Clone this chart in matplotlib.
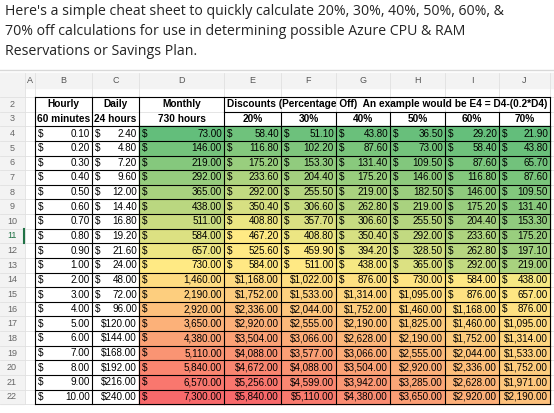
import numpy as np
import matplotlib.pyplot as plt
from matplotlib.colors import LinearSegmentedColormap

# data
hourly = [0.10, 0.20, 0.30, 0.40, 0.50, 0.60, 0.70, 0.80, 0.90, 1, 2, 3, 4, 5, 6, 7, 8, 9, 10]
daily = [2.40, 4.80, 7.20, 9.60, 12.00, 14.40, 16.80, 19.20, 21.60, 24, 48, 72, 96, 120, 144, 168, 192, 216, 240]
monthly = [73, 146, 219, 292, 365, 438, 511, 584, 657, 730, 1460, 2190, 2920, 3650, 4380, 5110, 5840, 6570, 7300]
discounts = [0.2, 0.3, 0.4, 0.5, 0.6, 0.7]
disc_labels = ["20%", "30%", "40%", "50%", "60%", "70%"]
col_letters = ["A", "B", "C", "D", "E", "F", "G", "H", "I", "J"]

title = ("Here's a simple cheat sheet to quickly calculate 20%, 30%, 40%, 50%, 60%, &\n"
         "70% off calculations for use in determining possible Azure CPU & RAM\n"
         "Reservations or Savings Plan.")

monthly = np.array(monthly, dtype=float)
disc_vals = np.array([monthly * (1 - d) for d in discounts])  # 6 x 19

fig = plt.figure(figsize=(5.54, 4.13), dpi=100)
ax = fig.add_axes([0, 0, 1, 1])
ax.set_xlim(0, 554)
ax.set_ylim(413, 0)
ax.axis("off")

ax.text(5, 4, title, ha="left", va="top", fontsize=10.2, family="Open Sans",
        color="#242424", linespacing=1.45)

# column boundaries
xb = [25, 35, 92, 139, 224, 281, 336, 390, 445, 499, 550]
hdr_top, hdr_bot = 73, 88
row1_bot = 97
rh = 14.63
def row_top(k):
    return row1_bot + (k - 2) * rh
nrows = 22
grid_bot = row_top(23)

# sheet background / header
ax.add_patch(plt.Rectangle((0, 70), 554, 343, color="white", zorder=0))
ax.add_patch(plt.Rectangle((0, hdr_top), 554, hdr_bot - hdr_top, color="#f3f3f3", zorder=1))
ax.add_patch(plt.Rectangle((0, hdr_top), 24, grid_bot - hdr_top, color="#f3f3f3", zorder=1))
ax.plot([0, 554], [70, 70], color="#d8d8d8", lw=1)
for i, c in enumerate(col_letters):
    ax.text((xb[i] + xb[i + 1]) / 2, (hdr_top + hdr_bot) / 2, c, ha="center", va="center",
            fontsize=6.5, color="#555555", family="Liberation Sans", zorder=3)
for k in range(1, nrows + 1):
    yt = hdr_bot if k == 1 else row_top(k)
    yb = row1_bot if k == 1 else row_top(k + 1)
    if k > 1:
        ax.text(12, (yt + yb) / 2, str(k), ha="center", va="center", fontsize=6.5,
                color="#217346" if k == 11 else "#666666", family="Liberation Sans", zorder=3)
    ax.plot([0, 554], [yb, yb], color="#e1e1e1", lw=0.6, zorder=1)
ax.plot([23.5, 23.5], [row_top(11), row_top(12)], color="#217346", lw=1.5, zorder=4)
for x in xb:
    ax.plot([x, x], [hdr_top, grid_bot], color="#e1e1e1", lw=0.6, zorder=1)

# colour scales (Excel 3-colour: min, 50th percentile, max)
cmap = LinearSegmentedColormap.from_list("xl", ["#63be7b", "#ffeb84", "#f8696b"])
def scale(v, arr):
    lo, mid, hi = arr.min(), np.percentile(arr, 50), arr.max()
    if v <= mid:
        t = 0.5 * (v - lo) / (mid - lo)
    else:
        t = 0.5 + 0.5 * (v - mid) / (hi - mid)
    return cmap(t)

fs = 7.1
fam = "Liberation Sans"

def money(x0, x1, yc, v, overflow_at):
    s = f"{v:,.2f}"
    if v >= overflow_at:
        ax.text(x1 - 2, yc, "$" + s, ha="right", va="center", fontsize=fs, family=fam, zorder=5)
    else:
        ax.text(x0 + 3, yc, "$", ha="left", va="center", fontsize=fs, family=fam, zorder=5)
        ax.text(x1 - 2, yc, s, ha="right", va="center", fontsize=fs, family=fam, zorder=5)

for i in range(len(hourly)):
    k = i + 4
    yt, yb = row_top(k), row_top(k + 1)
    yc = (yt + yb) / 2
    cells = [(3, monthly[i], monthly, 1e9)]
    for j in range(6):
        cells.append((4 + j, disc_vals[j, i], disc_vals, 1000))
    for col, v, arr, ov in cells:
        ax.add_patch(plt.Rectangle((xb[col], yt), xb[col + 1] - xb[col], rh,
                                   color=scale(v, arr), zorder=2))
        money(xb[col], xb[col + 1], yc, v, ov)
    money(xb[1], xb[2], yc, hourly[i], 1e9)
    money(xb[2], xb[3], yc, daily[i], 100)

# header texts
r2 = (row_top(2) + row_top(3)) / 2
r3 = (row_top(3) + row_top(4)) / 2
hb = dict(ha="center", va="center", fontsize=7.3, family=fam, fontweight="bold", zorder=5)
for col, t2, t3 in [(1, "Hourly", "60 minutes"), (2, "Daily", "24 hours"), (3, "Monthly", "730 hours")]:
    ax.text((xb[col] + xb[col + 1]) / 2, r2, t2, **hb)
    ax.text((xb[col] + xb[col + 1]) / 2, r3, t3, **hb)
ax.text((xb[4] + xb[10]) / 2, r2, "Discounts (Percentage Off)  An example would be E4 = D4-(0.2*D4)", **hb)
for j, lab in enumerate(disc_labels):
    ax.text((xb[4 + j] + xb[5 + j]) / 2, r3, lab, **hb)

# borders
lk = dict(color="black", lw=0.8, zorder=6)
top, bot = row_top(2), row_top(23)
for k in range(3, 24):
    y = row_top(k)
    if k == 3:
        ax.plot([xb[4], xb[10]], [y, y], **lk)
    else:
        ax.plot([xb[1], xb[10]], [y, y], **lk)
ax.plot([xb[1], xb[10]], [top, top], **lk)
for c in range(1, 11):
    y0 = top if c in (1, 2, 3, 4, 10) else row_top(3)
    ax.plot([xb[c], xb[c]], [y0, bot], **lk)

fig.savefig("out.png", dpi=100)
